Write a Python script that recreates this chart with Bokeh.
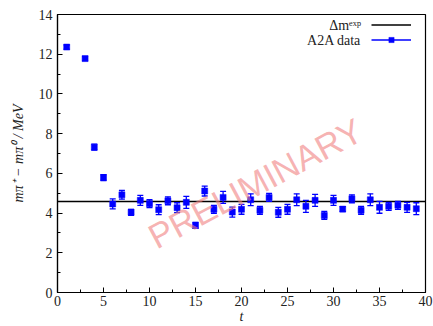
from bokeh.plotting import figure
from bokeh.models import ColumnDataSource, Label, Legend, LegendItem, FixedTicker
from bokeh.embed import file_html
from bokeh.resources import INLINE

# ---- data ----
t = [1, 3, 4, 5, 6, 7, 8, 9, 10, 11, 12, 13, 14, 15, 16, 17, 18, 19, 20,
     21, 22, 23, 24, 25, 26, 27, 28, 29, 30, 31, 32, 33, 34, 35, 36, 37, 38, 39]
dm = [12.36, 11.78, 7.32, 5.79, 4.46, 4.92, 4.04, 4.64, 4.47, 4.17, 4.62, 4.27,
      4.54, 3.38, 5.11, 4.19, 4.79, 4.05, 4.19, 4.67, 4.14, 4.79, 4.04, 4.19,
      4.67, 4.34, 4.64, 3.88, 4.64, 4.20, 4.72, 4.14, 4.67, 4.29, 4.34, 4.39,
      4.29, 4.22]
err = [0.10, 0.10, 0.15, 0.15, 0.25, 0.22, 0.15, 0.25, 0.20, 0.25, 0.20, 0.25,
       0.30, 0.15, 0.25, 0.20, 0.30, 0.25, 0.25, 0.30, 0.20, 0.20, 0.25, 0.25,
       0.30, 0.30, 0.30, 0.20, 0.25, 0.12, 0.20, 0.20, 0.30, 0.30, 0.20, 0.20,
       0.25, 0.30]
delta_m_exp = [4.59]
x_ticks = [0, 5, 10, 15, 20, 25, 30, 35, 40]
y_ticks = [0, 2, 4, 6, 8, 10, 12, 14]
legend_labels = ["Δmᵉˣᵖ", "A2A data"]

lo = [v - e for v, e in zip(dm, err)]
hi = [v + e for v, e in zip(dm, err)]
src = ColumnDataSource(dict(t=t, dm=dm, lo=lo, hi=hi))

SERIF = "Liberation Serif"
TXT = "#222222"

p = figure(width=433, height=326, output_backend="svg", toolbar_location=None,
           x_range=(x_ticks[0], x_ticks[-1]), y_range=(y_ticks[0], y_ticks[-1]),
           min_border_left=57, min_border_right=8, min_border_top=14, min_border_bottom=33)
p.background_fill_color = "white"
p.border_fill_color = "white"
p.outline_line_color = "black"
p.outline_line_width = 1.2
p.grid.visible = False

# axes
p.xaxis.ticker = FixedTicker(ticks=x_ticks, minor_ticks=[v + 2.5 for v in x_ticks[:-1]])
p.yaxis.ticker = FixedTicker(ticks=y_ticks, minor_ticks=[v + 1 for v in y_ticks[:-1]])
for ax in (p.xaxis[0], p.yaxis[0]):
    ax.major_tick_in = 5
    ax.major_tick_out = 0
    ax.minor_tick_in = 3
    ax.minor_tick_out = 0
    ax.axis_line_color = "black"
    ax.axis_line_width = 1.2
    ax.major_tick_line_color = "black"
    ax.minor_tick_line_color = "black"
    ax.major_label_text_font = SERIF
    ax.major_label_text_font_size = "14px"
    ax.major_label_text_color = TXT
    ax.axis_label_text_font = SERIF
    ax.axis_label_text_font_size = "14px"
    ax.axis_label_text_font_style = "italic"
    ax.axis_label_text_color = TXT
p.xaxis.axis_label = "t"
p.xaxis.axis_label_standoff = 0
p.xaxis.major_label_standoff = 3
p.yaxis.axis_label = "mπ⁺ − mπ⁰ / MeV"
p.yaxis.axis_label_standoff = 10
p.yaxis.major_label_standoff = 5

# experimental line
hl = p.hspan(y=delta_m_exp, line_color="black", line_width=1.5)

# error bars
seg = p.segment(x0="t", y0="lo", x1="t", y1="hi", source=src, line_color="#0000ff", line_width=1.3)
p.scatter(x="t", y="lo", source=src, marker="dash", size=6, line_color="#0000ff", line_width=1.3)
p.scatter(x="t", y="hi", source=src, marker="dash", size=6, line_color="#0000ff", line_width=1.3)
pts = p.scatter(x="t", y="dm", source=src, marker="square", size=6,
                fill_color="#0000ff", line_color="#0000ff", line_width=0.5)

# watermark
wm = Label(x=21.5, y=5.5, text="PRELIMINARY", angle=28, angle_units="deg",
           text_align="center", text_baseline="middle",
           text_font="Liberation Sans", text_font_size="35px",
           text_color="#f08080", text_alpha=0.6)
p.add_layout(wm)

# legend: glyphs via Legend, texts right-aligned to the left of the glyphs
legend = Legend(items=[LegendItem(label=" ", renderers=[hl]),
                       LegendItem(label=" ", renderers=[seg, pts])],
                location="top_right")
legend.background_fill_alpha = 0
legend.border_line_alpha = 0
legend.label_text_font_size = "13px"
legend.glyph_width = 40
legend.glyph_height = 13
legend.label_height = 13
legend.label_width = 0
legend.label_standoff = 10
legend.spacing = 2
legend.padding = 2
legend.margin = 2
p.add_layout(legend)

for lab, yy in zip(legend_labels, [13.47, 12.71]):
    p.add_layout(Label(x=33.0, y=yy, text=lab, text_align="right", text_baseline="middle",
                       text_font=SERIF, text_font_size="14px", text_color=TXT))

open("out.html", "w").write(file_html(p, INLINE))
